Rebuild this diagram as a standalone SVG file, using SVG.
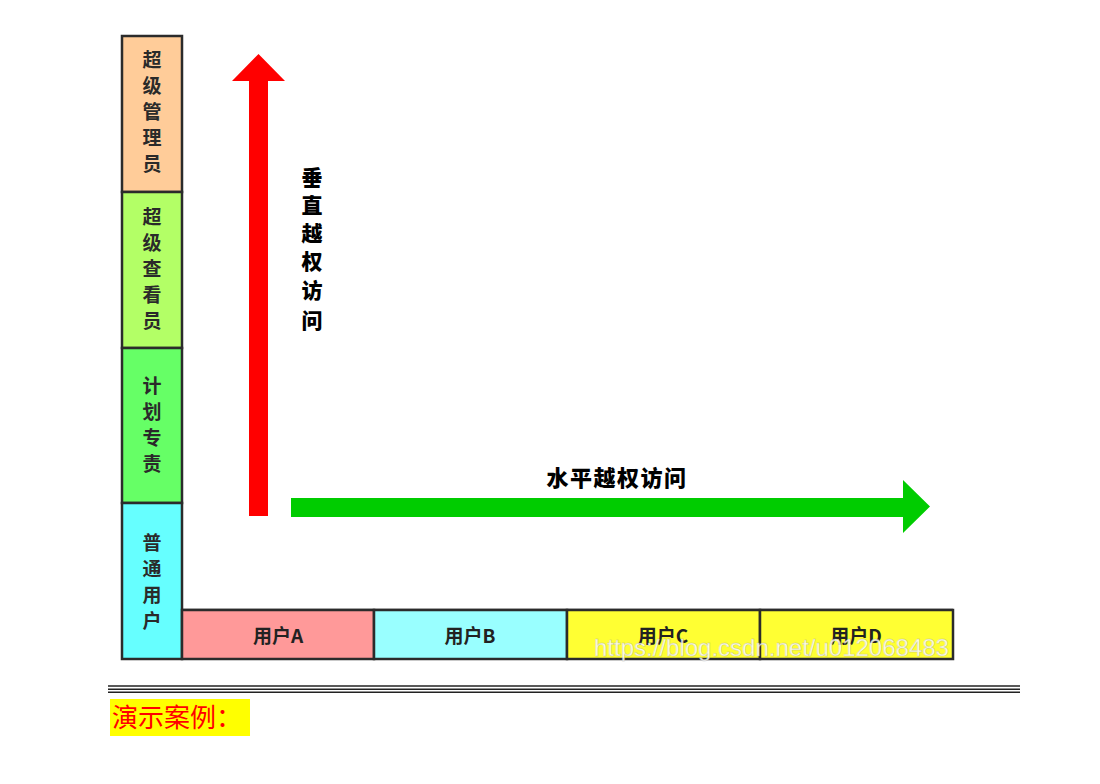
<svg xmlns="http://www.w3.org/2000/svg" width="1100" height="784" viewBox="0 0 1100 784">
<style>
.box{stroke:#2b2b2b;stroke-width:2.5}
.vt{font-family:"Noto Sans CJK SC","Noto Sans",sans-serif;font-size:19px;font-weight:bold;fill:#2a2a2a;text-anchor:middle}
.ht{font-family:"Noto Sans CJK SC","Liberation Sans",sans-serif;font-size:19px;font-weight:bold;fill:#222;text-anchor:middle}
.lbl{font-family:"Noto Sans CJK SC","Noto Sans",sans-serif;font-weight:900;fill:#000;text-anchor:middle}
</style>
<rect width="1100" height="784" fill="#fff"/>
<line x1="182" y1="609" x2="953" y2="609" stroke="#ccc" stroke-width="2"/>
<g id="role-superadmin">
<rect class="box" x="122" y="36" width="60" height="156" fill="#FFCC99"/>
<text class="vt" x="152" y="67">超</text><text class="vt" x="152" y="93">级</text><text class="vt" x="152" y="119">管</text><text class="vt" x="152" y="145">理</text><text class="vt" x="152" y="171">员</text>
</g>
<g id="role-superviewer">
<rect class="box" x="122" y="192" width="60" height="156" fill="#B3FF66"/>
<text class="vt" x="152" y="224">超</text><text class="vt" x="152" y="250">级</text><text class="vt" x="152" y="276">查</text><text class="vt" x="152" y="302">看</text><text class="vt" x="152" y="328">员</text>
</g>
<g id="role-planner">
<rect class="box" x="122" y="348" width="60" height="155" fill="#66FF66"/>
<text class="vt" x="152" y="393">计</text><text class="vt" x="152" y="419">划</text><text class="vt" x="152" y="445">专</text><text class="vt" x="152" y="471">责</text>
</g>
<g id="role-user">
<rect class="box" x="122" y="503" width="60" height="156" fill="#66FFFF"/>
<text class="vt" x="152" y="550">普</text><text class="vt" x="152" y="576">通</text><text class="vt" x="152" y="602">用</text><text class="vt" x="152" y="628">户</text>
</g>
<g id="user-a">
<rect class="box" x="182" y="610" width="192" height="49" fill="#FF9999"/>
<text class="ht" x="278" y="643">用户A</text>
</g>
<g id="user-b">
<rect class="box" x="374" y="610" width="193" height="49" fill="#99FFFF"/>
<text class="ht" x="470" y="643">用户B</text>
</g>
<g id="user-c">
<rect class="box" x="567" y="610" width="193" height="49" fill="#FFFF33"/>
<text class="ht" x="663" y="643">用户C</text>
</g>
<g id="user-d">
<rect class="box" x="760" y="610" width="193" height="49" fill="#FFFF33"/>
<text class="ht" x="856" y="643">用户D</text>
</g>
<g id="connectors">
<polygon fill="#FF0000" points="249,516 268,516 268,81 285,81 258.5,54 232,81 249,81"/>
<polygon fill="#00CC00" points="291,498 903,498 903,480 930,506.5 903,533 903,517 291,517"/>
</g>
<g id="label-vertical">
<text class="lbl" font-size="21" x="312" y="185">垂</text>
<text class="lbl" font-size="21" x="312" y="213">直</text>
<text class="lbl" font-size="21" x="312" y="241">越</text>
<text class="lbl" font-size="21" x="312" y="269">权</text>
<text class="lbl" font-size="21" x="312" y="298">访</text>
<text class="lbl" font-size="21" x="312" y="328">问</text>
</g>
<g id="label-horizontal">
<text class="lbl" font-size="22" letter-spacing="1.5" x="617" y="486">水平越权访问</text>
</g>
<text x="594" y="656" font-family="Liberation Sans,Arial,sans-serif" font-size="24" fill="#fff" fill-opacity="0.85" stroke="#999" stroke-opacity="0.35" stroke-width="0.8">https://blog.csdn.net/u012068483</text>
<g id="rule">
<line x1="108" y1="686" x2="1020" y2="686" stroke="#222" stroke-width="1.5"/>
<line x1="108" y1="689.2" x2="1020" y2="689.2" stroke="#222" stroke-width="1.5"/>
<line x1="108" y1="692.2" x2="1020" y2="692.2" stroke="#222" stroke-width="1.5"/>
</g>
<rect x="110" y="699" width="140" height="37" fill="#FFFF00"/>
<text x="112" y="727" font-family="Noto Sans CJK SC,Noto Sans,sans-serif" font-size="26" fill="#FF0000">演示案例：</text>
</svg>
